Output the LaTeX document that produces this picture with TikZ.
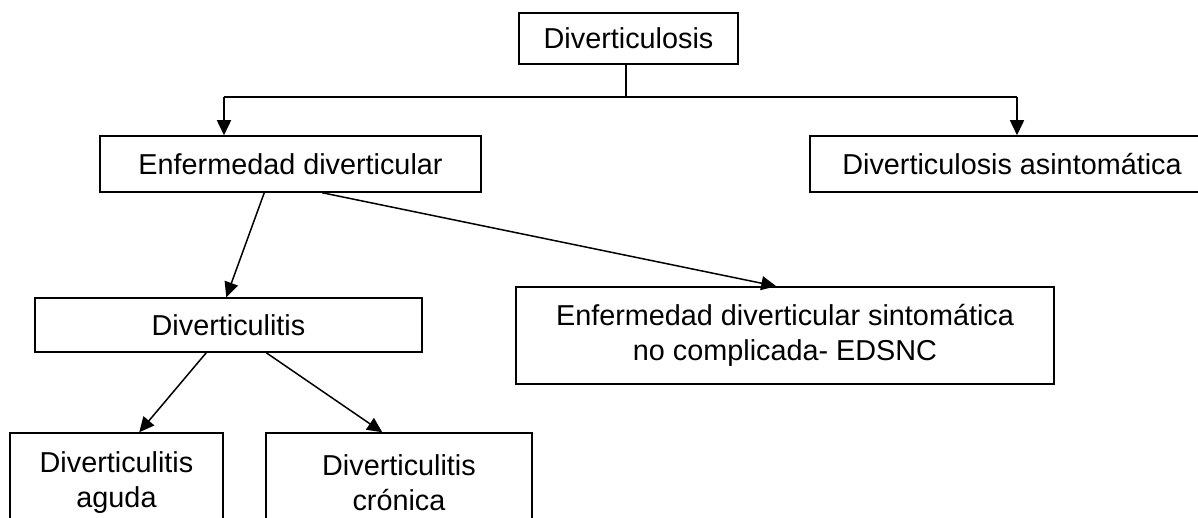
\documentclass[tikz,border=0pt]{standalone}
\usepackage{fontspec}
\setmainfont{Liberation Sans}
\usetikzlibrary{arrows.meta,calc}
\begin{document}
\begin{tikzpicture}[x=1pt,y=-1pt,
  box/.style={draw, line width=1.5pt, inner sep=0pt, align=center,
    font=\fontsize{28.8}{35}\selectfont},
  conn/.style={line width=1.5pt},
  arr/.style={line width=1.5pt, -{Triangle[length=15pt,width=14pt]}}]
\useasboundingbox (0,0) rectangle (1198,518);
\clip (0,0) rectangle (1198,518);
\fill[white] (0,0) rectangle (1198,518);
\node[box, minimum width=219pt, minimum height=51pt] (top) at (628.5,38.5) {Diverticulosis};
\node[box, minimum width=381pt, minimum height=56pt] (enf) at (290.5,164) {Enfermedad diverticular};
\node[box, minimum width=404pt, minimum height=56pt] (asin) at (1012,164) {Diverticulosis asintomática};
\node[box, minimum width=387pt, minimum height=54pt] (dlitis) at (228.5,325) {Diverticulitis};
\node[box, minimum width=538pt, minimum height=97pt] (edsnc) at (785,335.5) {Enfermedad diverticular sintomática\\no complicada- EDSNC};
\node[box, minimum width=213pt, minimum height=100pt] (aguda) at (116.5,483) {Diverticulitis\\aguda};
\node[box, minimum width=266pt, minimum height=100pt] (cronica) at (399,483) {Diverticulitis\\crónica};
\coordinate (jl) at (224,97);
\coordinate (jr) at (1017,97);
\coordinate (jm) at (626,97);
\draw[conn] (top.south -| jm) -- (jm);
\draw[conn] (jl) -- (jr);
\draw[arr] (jl) -- (enf.north -| jl);
\draw[arr] (jr) -- (asin.north -| jr);
\draw[arr] ($(enf.south west)+(165,0)$) -- ($(dlitis.north west)+(192,0)$);
\draw[arr] ($(enf.south west)+(223,0)$) -- ($(edsnc.north west)+(261,0)$);
\draw[arr] ($(dlitis.south west)+(172,0)$) -- ($(aguda.north west)+(130,0)$);
\draw[arr] ($(dlitis.south west)+(232,0)$) -- ($(cronica.north west)+(117,0)$);
\end{tikzpicture}
\end{document}
